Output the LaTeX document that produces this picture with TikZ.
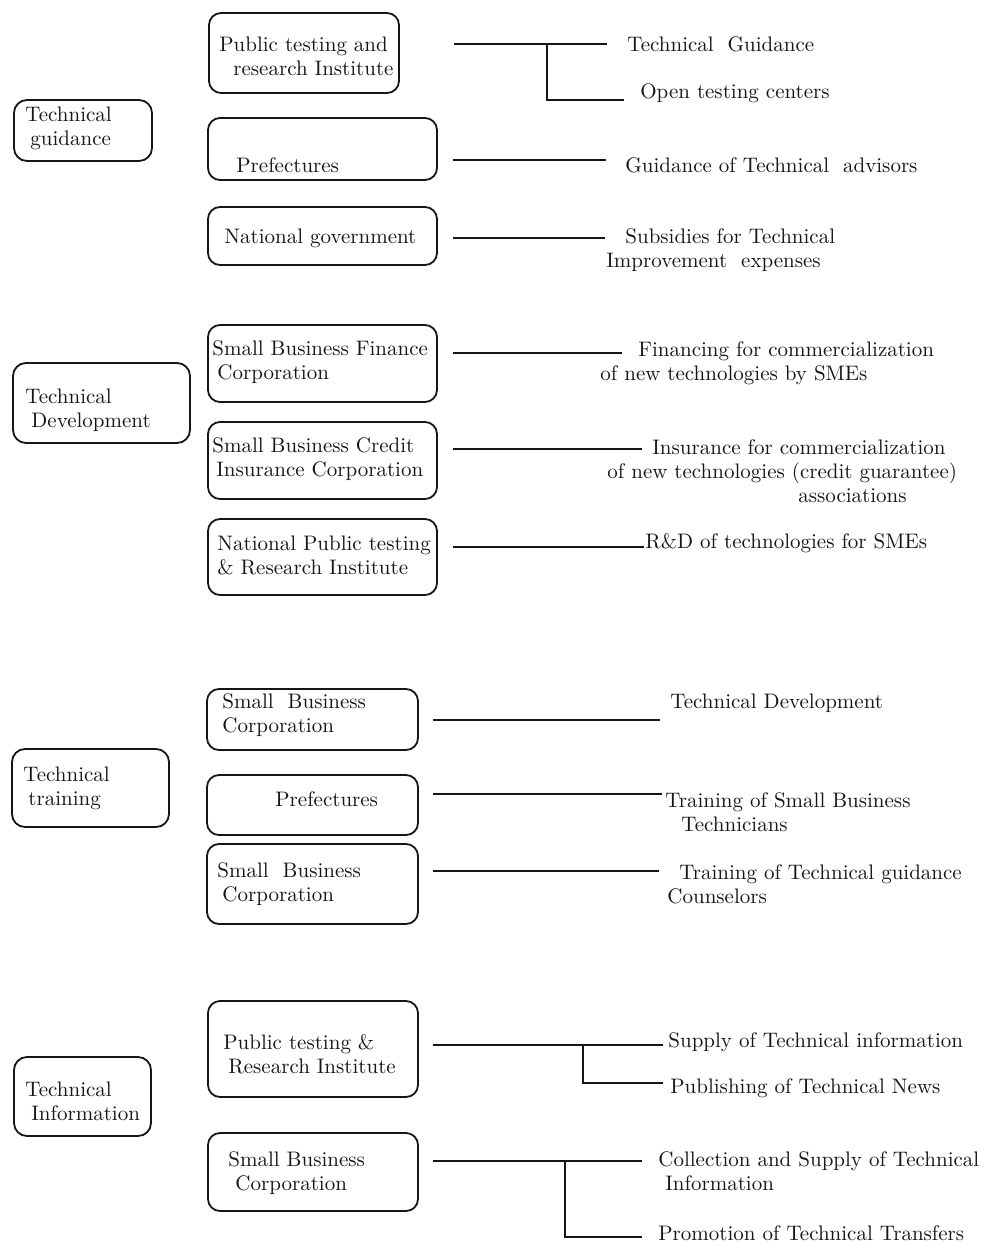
\documentclass[tikz,border=0pt]{standalone}
\usetikzlibrary{positioning,calc}
\definecolor{Ink}{HTML}{161616}
\tikzset{
  every node/.style = {font=\fontsize{10.5}{12}\selectfont, text=Ink},
  catbox/.style     = {draw=Ink, rounded corners=6.5pt, line width=0.9pt,
                       inner sep=0pt},
  orgbox/.style     = {catbox, rounded corners=6pt},
  tlabel/.style     = {anchor=west, align=left, inner sep=0pt},
  link/.style       = {draw=Ink, line width=1.1pt},
}

\begin{document}
\begin{tikzpicture}[x=0.5pt, y=-0.5pt]
\useasboundingbox (0,0) rectangle (985,1246);

% =========================================================================
% Category boxes (left column)
% =========================================================================
\node[catbox, minimum width=69pt,   minimum height=30.5pt] (cGuid)  at (83,130.5)   {};
\node[catbox, minimum width=88.5pt, minimum height=40pt]   (cDev)   at (101.5,403)   {};
\node[catbox, minimum width=78.5pt, minimum height=39pt]   (cTrain) at (90.5,788)    {};
\node[catbox, minimum width=68.5pt, minimum height=39.5pt] (cInfo)  at (82.5,1096.5) {};

\node[tlabel] (tGuid)  at (25,128)  {Technical\\\hspace*{2.5pt}guidance};
\node[tlabel] (tDev)   at (25,410)  {Technical\\\hspace*{3pt}Development};
\node[tlabel] (tTrain) at (23,788)  {Technical\\\hspace*{2.5pt}training};
\node[tlabel] (tInfo)  at (25,1101) {Technical\\\hspace*{3pt}Information};

% =========================================================================
% Organisation boxes (middle column)
% =========================================================================
% guidance
\node[orgbox, minimum width=95pt,    minimum height=40pt]   (bPri)  at (304,53)    {};
\node[orgbox, minimum width=114.5pt, minimum height=31pt]   (bPref) at (322.5,149) {};
\node[orgbox, minimum width=114.5pt, minimum height=29pt]   (bNat)  at (322.5,236) {};
% development
\node[orgbox, minimum width=114.5pt, minimum height=38.5pt] (bFin)  at (322.5,363.5) {};
\node[orgbox, minimum width=114.5pt, minimum height=38.5pt] (bCred) at (322.5,460.5) {};
\node[orgbox, minimum width=114.5pt, minimum height=38pt]   (bNpri) at (322.5,557)   {};
% training
\node[orgbox, minimum width=105.5pt, minimum height=30.5pt] (bSbc1)  at (312.5,719.5) {};
\node[orgbox, minimum width=105.5pt, minimum height=30pt]   (bPref2) at (312.5,805)   {};
\node[orgbox, minimum width=105.5pt, minimum height=40pt]   (bSbc2)  at (312.5,884)   {};
% information
\node[orgbox, minimum width=105pt, minimum height=48pt]     (bPri2) at (313,1049) {};
\node[orgbox, minimum width=105pt, minimum height=39pt]     (bSbc3) at (313,1172) {};

\node[tlabel] (tPri)   at (219,56)   {Public testing and\\\hspace*{7pt}research Institute};
\node[tlabel] (tPref)  at (236,165)  {Prefectures};
\node[tlabel] (tNat)   at (224,238)  {National government};
\node[tlabel] (tFin)   at (212,362)  {Small Business Finance\\\hspace*{2.5pt}Corporation};
\node[tlabel] (tCred)  at (212,459)  {Small Business Credit\\\hspace*{2pt}Insurance Corporation};
\node[tlabel] (tNpri)  at (217,555)  {National Public testing\\\& Research Institute};
\node[tlabel] (tSbc1)  at (222,715)  {Small~ Business\\Corporation};
\node[tlabel] (tPref2) at (275,799)  {Prefectures};
\node[tlabel] (tSbc2)  at (217,884)  {Small~ Business\\\hspace*{2.5pt}Corporation};
\node[tlabel] (tPri2)  at (223,1054) {Public testing \&\\\hspace*{2.5pt}Research Institute};
\node[tlabel] (tSbc3)  at (228,1173) {Small Business\\\hspace*{3.5pt}Corporation};

% =========================================================================
% Measures (right column)
% =========================================================================
\node[tlabel] (lGuid) at (627,44)    {Technical~~Guidance};
\node[tlabel] (lOpen) at (640,93)    {Open testing centers};
\node[tlabel] (lAdv)  at (625,165)   {Guidance of Technical~~advisors};
\node[tlabel] (lSubs) at (606,250.5) {\hspace*{9.5pt}Subsidies for Technical\\Improvement~~expenses};
\node[tlabel] (lFin)  at (600,363)   {\hspace*{19pt}Financing for commercialization\\of new technologies by SMEs};
\node[tlabel] (lIns)  at (607,471)   {\hspace*{22.5pt}Insurance for commercialization\\of new technologies (credit guarantee)\\\hspace*{95.5pt}associations};
\node[tlabel] (lRnd)  at (645,543)   {R\&D of technologies for SMEs};
\node[tlabel] (lDev)  at (670,703)   {Technical Development};
\node[tlabel] (lTrn)  at (665,812)   {Training of Small Business\\\hspace*{8pt}Technicians};
\node[tlabel] (lCou)  at (667,884)   {\hspace*{6pt}Training of Technical guidance\\Counselors};
\node[tlabel] (lSup)  at (668,1042)  {Supply of Technical information};
\node[tlabel] (lPub)  at (670,1088)  {Publishing of Technical News};
\node[tlabel] (lCol)  at (658,1171.5) {Collection and Supply of Technical\\\hspace*{3.5pt}Information};
\node[tlabel] (lPro)  at (658,1233)  {Promotion of Technical Transfers};

% =========================================================================
% Line ends and branch points
% =========================================================================
\coordinate (jGuid) at (607,44);
\coordinate (kGuid) at (547,44);
\coordinate (jOpen) at (624,100);
\coordinate (jAdv)  at (606,160);
\coordinate (jSubs) at (605,238);
\coordinate (jFin)  at (622,353);
\coordinate (jIns)  at (642,449);
\coordinate (jRnd)  at (644,547);
\coordinate (jDev)  at (660,720);
\coordinate (jTrn)  at (662,794);
\coordinate (jCou)  at (659,871);
\coordinate (jSup)  at (663,1045);
\coordinate (kSup)  at (583,1045);
\coordinate (jPub)  at (663,1083);
\coordinate (jCol)  at (642,1161);
\coordinate (kCol)  at (565,1161);
\coordinate (jPro)  at (642,1237);

% =========================================================================
% Connectors
% =========================================================================
\draw[link] (bPri.east |- jGuid) ++(54,0) -- (jGuid);
\draw[link] (kGuid) |- (jOpen);
\draw[link] (bPref.east |- jAdv) ++(15,0) -- (jAdv);
\draw[link] (bNat.east |- jSubs) ++(15,0) -- (jSubs);

\draw[link] (bFin.east |- jFin)  ++(15,0) -- (jFin);
\draw[link] (bCred.east |- jIns) ++(15,0) -- (jIns);
\draw[link] (bNpri.east |- jRnd) ++(15,0) -- (jRnd);

\draw[link] (bSbc1.east |- jDev)  ++(14,0) -- (jDev);
\draw[link] (bPref2.east |- jTrn) ++(14,0) -- (jTrn);
\draw[link] (bSbc2.east |- jCou)  ++(14,0) -- (jCou);

\draw[link] (bPri2.east |- jSup) ++(14,0) -- (jSup);
\draw[link] (kSup) |- (jPub);
\draw[link] (bSbc3.east |- jCol) ++(14,0) -- (jCol);
\draw[link] (kCol) |- (jPro);

\end{tikzpicture}
\end{document}
